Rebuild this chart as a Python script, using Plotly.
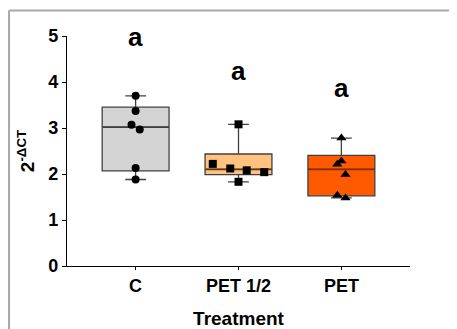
import numpy as np
import plotly.graph_objects as go

categories = ["C", "PET 1/2", "PET"]
c_values = [3.70, 3.37, 3.07, 2.97, 2.13, 1.88]
pet_half_values = [3.08, 2.22, 2.12, 2.08, 2.04, 1.83]
pet_values = [2.78, 2.28, 2.21, 1.99, 1.54, 1.48]
series = [c_values, pet_half_values, pet_values]
letters = ["a", "a", "a"]
letter_heights = [4.98, 4.24, 3.86]
y_ticks = [0, 1, 2, 3, 4, 5]

# horizontal scatter offsets (style, as in the original dot plot)
offsets = [
    [0, 0, -0.04, 0.04, 0, 0],
    [0, -0.25, -0.08, 0.08, 0.25, 0],
    [0, 0, -0.04, 0.04, -0.04, 0.04],
]
fills = ["#d4d4d4", "#ffc27f", "#ff5a00"]
median_colors = ["#404040", "#5a3a1a", "#8a2a00"]
symbols = ["circle", "square", "triangle-up"]
msizes = [8, 8, 9]

FONT = "Liberation Sans, Arial, sans-serif"
box_w = 0.65

fig = go.Figure()
for i, vals in enumerate(series):
    v = np.array(vals)
    q1, med, q3 = np.percentile(v, [25, 50, 75], method="weibull")
    fig.add_trace(go.Box(
        x=[i], q1=[q1], median=[med], q3=[q3],
        lowerfence=[v.min()], upperfence=[v.max()],
        width=box_w, whiskerwidth=0.31,
        fillcolor=fills[i], line=dict(color="#404040", width=1.3),
        boxpoints=False, showlegend=False, hoverinfo="skip",
    ))
    fig.add_trace(go.Scatter(
        x=[i - box_w / 2, i + box_w / 2], y=[med, med], mode="lines",
        line=dict(color=median_colors[i], width=1.8),
        showlegend=False, hoverinfo="skip",
    ))
    fig.add_trace(go.Scatter(
        x=[i + o for o in offsets[i]], y=vals, mode="markers",
        marker=dict(symbol=symbols[i], size=msizes[i], color="black"),
        showlegend=False,
    ))
    fig.add_annotation(
        x=i, y=letter_heights[i], text=letters[i], showarrow=False,
        font=dict(family=FONT, size=26, color="black", weight="bold"),
        xanchor="center", yanchor="middle",
    )

fig.update_layout(
    width=449, height=321,
    margin=dict(l=59, r=47, t=28, b=63, autoexpand=False),
    plot_bgcolor="white", paper_bgcolor="white",
    font=dict(family=FONT, color="black"),
    xaxis=dict(
        range=[-0.667, 2.667], tickvals=[0, 1, 2], ticktext=categories,
        showline=True, linecolor="black", linewidth=1.3,
        ticks="outside", ticklen=3, tickwidth=1.3, tickcolor="black",
        showgrid=False, zeroline=False, automargin=False,
        tickfont=dict(family=FONT, size=18, weight="bold"),
        title=dict(text="Treatment", standoff=16,
                   font=dict(family=FONT, size=19, weight="bold")),
    ),
    yaxis=dict(
        range=[0, 5], tickvals=y_ticks,
        showline=True, linecolor="black", linewidth=1.3,
        ticks="outside", ticklen=4, tickwidth=1.3, tickcolor="black",
        showgrid=False, zeroline=False, automargin=False,
        tickfont=dict(family=FONT, size=18, weight="bold"),
        title=dict(text="2<sup>-ΔCT</sup>", standoff=8,
                   font=dict(family=FONT, size=19, weight="bold")),
    ),
    shapes=[
        dict(type="line", xref="paper", yref="paper",
             x0=-0.169, x1=-0.169, y0=1.111, y1=-0.4,
             line=dict(color="#a8a8a8", width=2)),
        dict(type="line", xref="paper", yref="paper",
             x0=-0.169, x1=1.2, y0=1.111, y1=1.111,
             line=dict(color="#a8a8a8", width=2)),
    ],
)

fig.write_html("out.html")
